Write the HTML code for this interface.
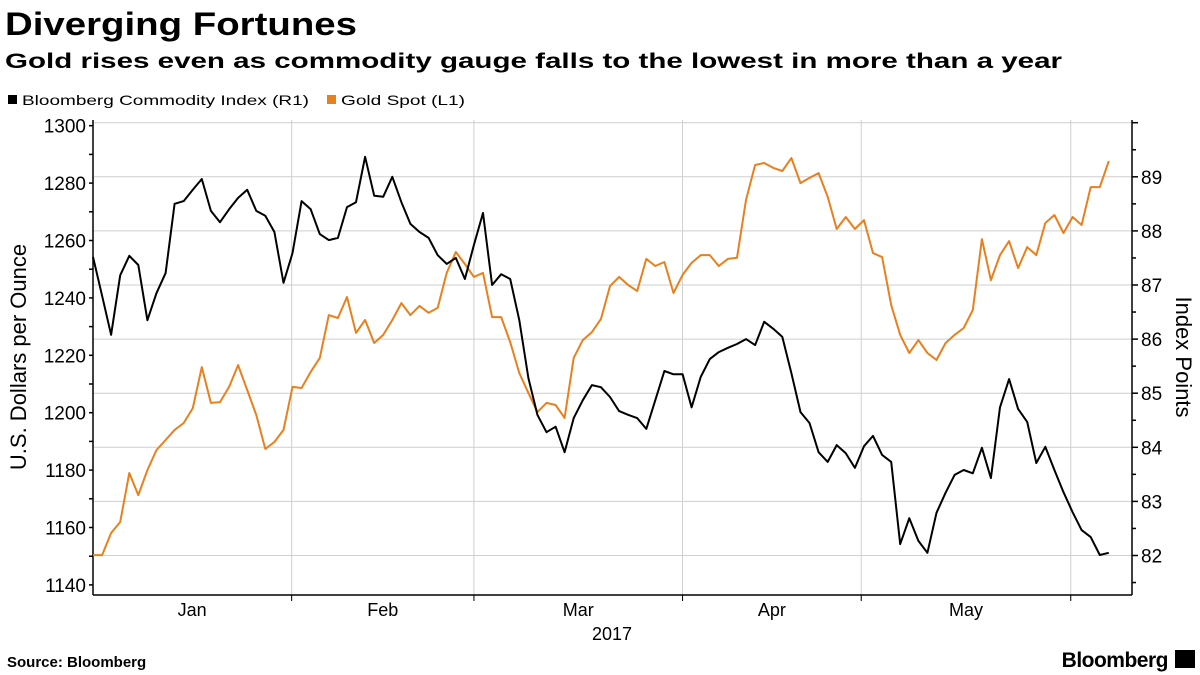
<!DOCTYPE html>
<html><head><meta charset="utf-8"><style>
html,body{margin:0;padding:0;background:#fff;}
svg{display:block;font-family:"Liberation Sans",sans-serif;}
</style></head><body>
<svg id="chart" width="1200" height="675" viewBox="0 0 1200 675" xmlns="http://www.w3.org/2000/svg">
<rect width="1200" height="675" fill="#fff"/>
<text x="5" y="35" font-size="32" font-weight="bold" textLength="352" lengthAdjust="spacingAndGlyphs">Diverging Fortunes</text>
<text x="5" y="68" font-size="21" font-weight="bold" textLength="1057" lengthAdjust="spacingAndGlyphs">Gold rises even as commodity gauge falls to the lowest in more than a year</text>
<g>
<rect x="8" y="95" width="9" height="9" fill="#000"/>
<text x="22" y="105" font-size="14" textLength="287" lengthAdjust="spacingAndGlyphs">Bloomberg Commodity Index (R1)</text>
<rect x="327" y="95" width="9" height="9" fill="#e8801e"/>
<text x="341" y="105" font-size="14" textLength="124" lengthAdjust="spacingAndGlyphs">Gold Spot (L1)</text>
</g>
<g id="grid"></g>
<g id="axes"></g>
<g id="series"></g>
<text transform="translate(26,357) rotate(-90)" text-anchor="middle" font-size="22">U.S. Dollars per Ounce</text>
<text transform="translate(1176,357) rotate(90)" text-anchor="middle" font-size="22">Index Points</text>
<text x="612" y="640" text-anchor="middle" font-size="18">2017</text>
<text x="7" y="667" font-size="15" font-weight="bold">Source: Bloomberg</text>
<text x="1168" y="667" text-anchor="end" font-size="21" font-weight="bold" letter-spacing="-0.5">Bloomberg</text>
<rect x="1175" y="650" width="20" height="18" fill="#000"/>
</svg>
<script>
const commodity=[87.52,86.80,86.08,87.18,87.54,87.37,86.35,86.85,87.22,88.50,88.55,88.76,88.96,88.37,88.16,88.40,88.61,88.76,88.37,88.28,87.98,87.04,87.59,88.55,88.40,87.94,87.83,87.87,88.44,88.53,89.37,88.65,88.63,89.00,88.53,88.13,87.98,87.87,87.55,87.39,87.50,87.11,87.74,88.33,87.00,87.20,87.11,86.35,85.28,84.60,84.28,84.38,83.91,84.54,84.87,85.15,85.11,84.93,84.67,84.60,84.54,84.34,84.87,85.41,85.35,85.35,84.74,85.30,85.63,85.76,85.84,85.91,86.00,85.89,86.32,86.19,86.04,85.37,84.65,84.45,83.91,83.73,84.04,83.89,83.62,84.02,84.21,83.86,83.73,82.21,82.69,82.27,82.05,82.79,83.16,83.49,83.58,83.52,83.99,83.43,84.74,85.26,84.71,84.47,83.71,84.01,83.58,83.17,82.80,82.47,82.34,82.01,82.05];
const gold=[1150.4,1150.4,1158.1,1161.9,1179.0,1171.3,1180.0,1187.0,1190.5,1194.0,1196.4,1201.6,1215.9,1203.4,1203.7,1209.0,1216.6,1207.9,1199.2,1187.4,1189.8,1194.0,1209.0,1208.6,1214.2,1219.1,1234.0,1233.0,1240.3,1227.8,1232.3,1224.3,1227.1,1232.3,1238.2,1234.0,1237.2,1234.8,1236.5,1248.7,1256.0,1251.8,1247.3,1248.7,1233.3,1233.3,1224.6,1213.8,1206.9,1200.2,1203.4,1202.7,1198.2,1219.1,1225.3,1228.1,1232.6,1244.1,1247.3,1244.5,1242.4,1253.6,1251.1,1252.5,1241.7,1248.0,1252.2,1254.9,1254.9,1251.1,1253.6,1254.0,1274.1,1286.3,1287.0,1285.3,1284.2,1288.7,1280.0,1281.8,1283.5,1275.2,1264.0,1268.2,1264.0,1267.1,1255.6,1254.2,1237.5,1227.1,1220.8,1225.3,1220.8,1218.4,1224.3,1227.1,1229.5,1235.8,1260.5,1246.2,1254.9,1259.8,1250.4,1257.7,1254.9,1266.1,1268.9,1262.6,1268.2,1265.4,1278.6,1278.6,1287.7];
const leftTicks=[1140,1160,1180,1200,1220,1240,1260,1280,1300];
const rightTicks=[82,83,84,85,86,87,88,89];
const months=["Jan","Feb","Mar","Apr","May"];
const monthBounds=[-0.05,21.9,42,65,84.7,107.8];

const X0=93,X1=1132,Y0=120,Y1=595,STEP=9.07;
const xIdx=i=>X0+i*STEP;
const yL=v=>125.7+(1300-v)*2.87;
const yR=v=>555.5-(v-82)*54.1;
const NS="http://www.w3.org/2000/svg";
function mk(tag,attrs,parent,txt){const e=document.createElementNS(NS,tag);for(const k in attrs)e.setAttribute(k,attrs[k]);if(txt!==undefined)e.textContent=txt;parent.appendChild(e);return e;}
const grid=document.getElementById('grid'),axes=document.getElementById('axes'),series=document.getElementById('series');

// horizontal grid aligned with right axis
for(let v=82;v<=90;v++){
  const g=mk('line',{x1:X0,x2:X1,y1:yR(v),y2:yR(v),stroke:'#cfcfcf','stroke-width':1},grid);
  
  
}
// vertical grid at month boundaries
for(let k=1;k<monthBounds.length;k++){
  const x=xIdx(monthBounds[k]);
  const g=mk('line',{x1:x,x2:x,y1:Y0,y2:Y1+5,stroke:'#cfcfcf','stroke-width':1},grid);
  
  
  const t=mk('line',{x1:x,x2:x,y1:Y1,y2:Y1+6,stroke:'#000','stroke-width':1},axes);
  
  
}
// axis lines
const ax=mk('line',{x1:X0,x2:X1,y1:Y1,y2:Y1,stroke:'#000','stroke-width':1.5},axes);


const al=mk('line',{x1:X0,x2:X0,y1:Y0,y2:Y1,stroke:'#000','stroke-width':1.5},axes);


const ar=mk('line',{x1:X1,x2:X1,y1:Y0,y2:Y1,stroke:'#000','stroke-width':1.5},axes);


// left ticks
for(let v=1140;v<=1300;v+=10){
  const tk=mk('line',{x1:X0-4,x2:X0,y1:yL(v),y2:yL(v),stroke:'#000','stroke-width':1.5},axes);
  
  
}
leftTicks.forEach(v=>{
  const t=mk('text',{x:X0-7,y:yL(v)+7,'text-anchor':'end','font-size':19},axes,String(v));
  
  
});
// right ticks
for(let v=81.5;v<=90;v+=0.5){
  const maj=Number.isInteger(v);
  const tk=mk('line',{x1:X1,x2:X1+(maj?6:4),y1:yR(v),y2:yR(v),stroke:'#000','stroke-width':1.5},axes);
  
  
}
rightTicks.forEach(v=>{
  const t=mk('text',{x:X1+9,y:yR(v)+7,'font-size':19},axes,String(v));
  
  
});
// month labels
months.forEach((m,k)=>{
  const x=(xIdx(monthBounds[k])+xIdx(monthBounds[k+1]))/2;
  const t=mk('text',{x:x,y:616,'text-anchor':'middle','font-size':18},axes,m);
  
  
});
// series
const pg=gold.map((v,i)=>xIdx(i).toFixed(1)+','+yL(v).toFixed(1)).join(' ');
const lg=mk('polyline',{points:pg,fill:'none',stroke:'#e8801e','stroke-width':2,'stroke-linejoin':'round'},series);


const pc=commodity.map((v,i)=>xIdx(i).toFixed(1)+','+yR(v).toFixed(1)).join(' ');
const lc=mk('polyline',{points:pc,fill:'none',stroke:'#000','stroke-width':2,'stroke-linejoin':'round'},series);


</script>
</body></html>
